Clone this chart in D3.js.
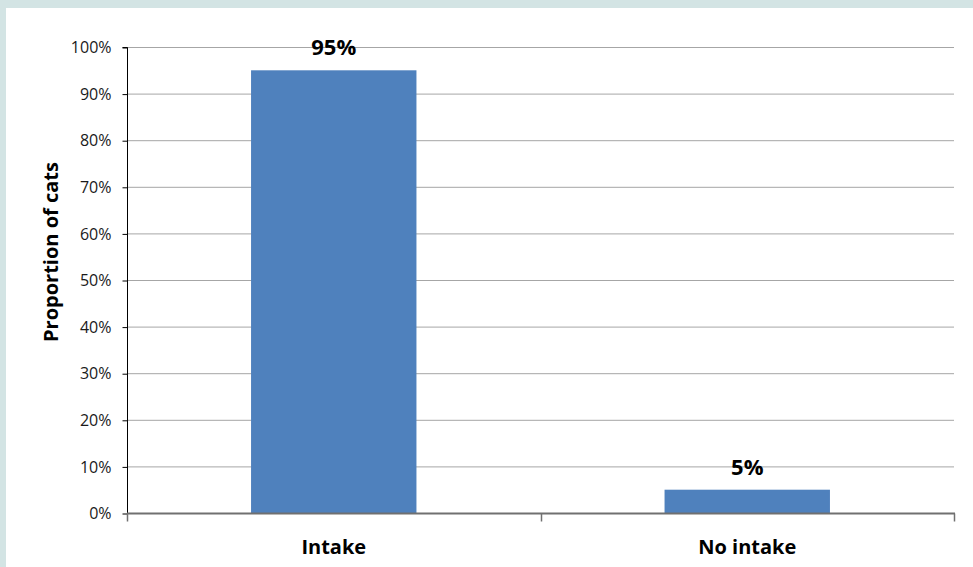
<!DOCTYPE html>
<html>
<head>
<meta charset="utf-8">
<script src="https://cdn.jsdelivr.net/npm/d3@7/dist/d3.min.js"></script>
<style>
  html, body { margin: 0; padding: 0; background: #d3e4e4; }
  svg { display: block; }
</style>
</head>
<body>
<svg id="chart" width="973" height="567"></svg>
<script>
const categories = ["Intake", "No intake"];
const values = [95, 5];
const yTicks = [0, 10, 20, 30, 40, 50, 60, 70, 80, 90, 100];
const yLabel = "Proportion of cats";

const svg = d3.select("#chart");
const W = 973, H = 567;
const font = "'Open Sans', sans-serif";

// white chart panel, leaving a tinted strip on the top and left
svg.append("rect").attr("x", 6).attr("y", 8).attr("width", W - 6).attr("height", H - 8).attr("fill", "#ffffff");

const m = { left: 127, right: 954, top: 47, bottom: 513 };

const x = d3.scaleBand().domain(categories).range([m.left, m.right]).paddingInner(0.6).paddingOuter(0.3);
const y = d3.scaleLinear().domain([0, 100]).range([m.bottom, m.top]);

// horizontal gridlines
svg.append("g").selectAll("line").data(yTicks.filter(t => t > 0)).join("line")
  .attr("x1", m.left).attr("x2", m.right)
  .attr("y1", d => y(d) + 0.5).attr("y2", d => y(d) + 0.5)
  .attr("stroke", "#a6a6a6").attr("stroke-width", 1);

// bars
svg.append("g").selectAll("rect").data(values).join("rect")
  .attr("x", (d, i) => x(categories[i]))
  .attr("width", x.bandwidth())
  .attr("y", d => y(d))
  .attr("height", d => y(0) - y(d))
  .attr("fill", "#4f81bd");

// value labels
svg.append("g").selectAll("text").data(values).join("text")
  .attr("x", (d, i) => x(categories[i]) + x.bandwidth() / 2)
  .attr("y", d => y(d) - 15)
  .attr("text-anchor", "middle")
  .attr("font-family", font).attr("font-weight", "bold").attr("font-size", 22)
  .attr("fill", "#000")
  .text(d => d + "%");

// y axis
const yAxis = d3.axisLeft(y).tickValues(yTicks).tickSize(5).tickPadding(11).tickFormat(d => d + "%");
const gy = svg.append("g").attr("transform", `translate(${m.left + 0.5},0.5)`).call(yAxis);
gy.select(".domain").attr("stroke", "#000").attr("d", `M-5,${m.top}H0V${m.bottom}`);
gy.selectAll(".tick line").attr("stroke", "#000");
gy.selectAll(".tick text").attr("font-family", font).attr("font-size", 16).attr("fill", "#1a1a1a");

// x axis with ticks on category boundaries
const gx = svg.append("g").attr("transform", `translate(0,${m.bottom + 0.5})`);
gx.append("line").attr("x1", m.left).attr("x2", m.right + 1).attr("y1", 0).attr("y2", 0)
  .attr("stroke", "#707070").attr("stroke-width", 2);
const bounds = [m.left, (m.left + m.right) / 2, m.right];
gx.selectAll("line.tk").data(bounds).join("line").attr("class", "tk")
  .attr("x1", d => Math.round(d) + 0.5).attr("x2", d => Math.round(d) + 0.5)
  .attr("y1", 0).attr("y2", 8).attr("stroke", "#707070").attr("stroke-width", 1.5);
gx.selectAll("text").data(categories).join("text")
  .attr("x", d => x(d) + x.bandwidth() / 2)
  .attr("y", 40)
  .attr("text-anchor", "middle")
  .attr("font-family", font).attr("font-weight", "bold").attr("font-size", 20)
  .attr("fill", "#000")
  .text(d => d);

// y axis title
svg.append("text")
  .attr("transform", `translate(58,252) rotate(-90)`)
  .attr("text-anchor", "middle")
  .attr("font-family", font).attr("font-weight", "bold").attr("font-size", 20)
  .attr("fill", "#000")
  .text(yLabel);
</script>
</body>
</html>
